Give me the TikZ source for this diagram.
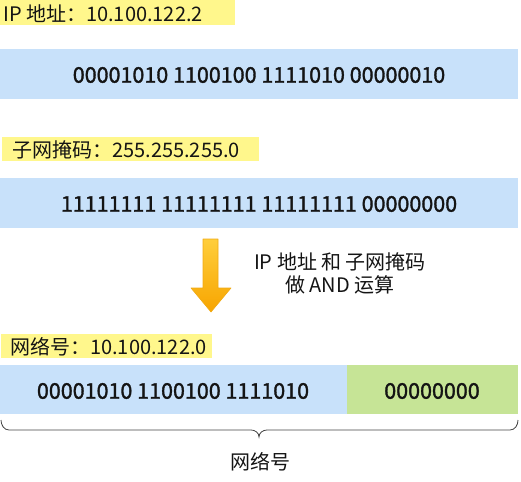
\documentclass[tikz,border=0pt]{standalone}
\usepackage{fontspec}
\setmainfont{Noto Sans CJK SC}
\newfontfamily\barfont[FakeBold=1.5]{Noto Sans CJK SC}
\usetikzlibrary{shadings}
\definecolor{lblyellow}{RGB}{255,247,140}
\definecolor{barblue}{RGB}{200,225,250}
\definecolor{bargreen}{RGB}{198,228,150}
\definecolor{arrtop}{RGB}{255,206,60}
\definecolor{arrbot}{RGB}{247,165,0}
\definecolor{arredge}{RGB}{240,170,20}
\definecolor{txt}{RGB}{20,20,20}
\tikzset{
  lbl/.style={fill=lblyellow, draw=none},
  bar/.style={fill=barblue, draw=none},
  gbar/.style={fill=bargreen, draw=none},
  bartext/.style={font=\barfont\fontsize{21.5}{25}\selectfont, text=txt, inner sep=0pt},
  lbltext/.style={font=\fontsize{20}{24}\selectfont, text=txt, inner sep=0pt, anchor=west},
  note/.style={font=\fontsize{20}{24}\selectfont, text=txt, inner sep=0pt},
}
\begin{document}
\begin{tikzpicture}[x=1pt,y=-1pt]
\useasboundingbox (0,0) rectangle (521,481);
% label 1
\fill[lbl] (0,0) rectangle (235,25);
\node[lbltext] (l1) at (3,14) {IP 地址：10.100.122.2};
% bar 1
\fill[bar] (0,49) rectangle (518,99);
\node[bartext] (b1) at (259,75) {00001010 1100100 1111010 00000010};
% label 2
\fill[lbl] (2,137) rectangle (259,161);
\node[lbltext] (l2) at (12,150) {子网掩码：255.255.255.0};
% bar 2
\fill[bar] (0,178) rectangle (518,228);
\node[bartext] (b2) at (259,204) {11111111 11111111 11111111 00000000};
% arrow
\shade[top color=arrtop, bottom color=arrbot, draw=arredge, line width=0.6pt, line join=round]
  (203,239) -- (218,239) -- (218,288) -- (231,288) -- (211,312) -- (191,288) -- (203,288) -- cycle;
\node[note] (n1) at (340,262) {IP 地址 和 子网掩码};
\node[note] (n2) at (340,285) {做 AND 运算};
% label 3
\fill[lbl] (1,334) rectangle (212,358);
\node[lbltext] (l3) at (10,347) {网络号：10.100.122.0};
% bar 3
\fill[bar] (0,365) rectangle (347,414);
\fill[gbar] (347,365) rectangle (518,414);
\node[bartext] (b3a) at (173,391) {00001010 1100100 1111010};
\node[bartext] (b3b) at (432,391) {00000000};
% brace
\draw[line width=0.8pt, color=txt!80]
  (1,420) to[out=-90,in=180] (9,430) -- (251,430) to[out=0,in=90] (259,437)
  to[out=90,in=180] (267,430) -- (510,430) to[out=0,in=-90] (518,420);
\node[note] (n3) at (260,462) {网络号};
\end{tikzpicture}
\end{document}
